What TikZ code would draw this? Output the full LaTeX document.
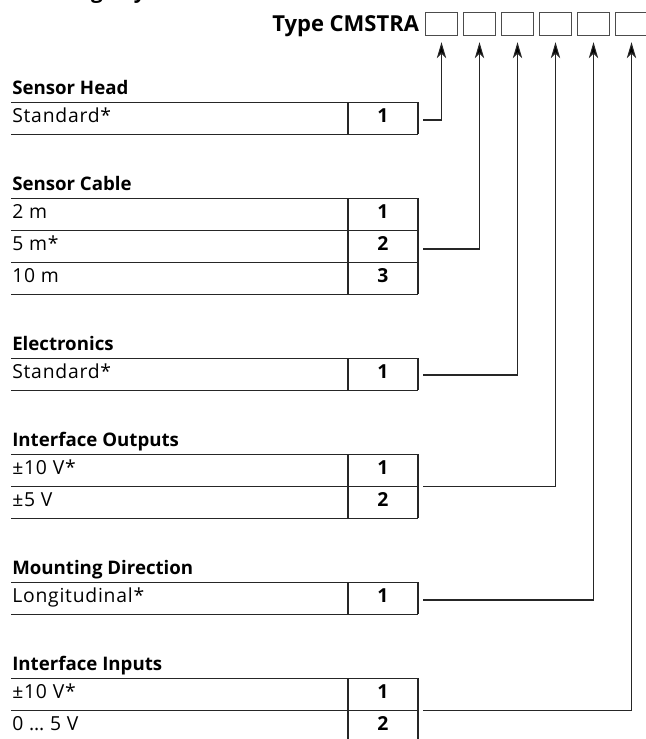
\documentclass[tikz,border=0pt]{standalone}
\usepackage{fontspec}
\setmainfont{Open Sans}
\newfontfamily\rowfont[LetterSpace=4.0]{Open Sans}
\usetikzlibrary{arrows.meta}
\newcommand\optrow[4]{%
  \draw[tline] (11,#1) -- (418,#1);
  \draw[tline] (11,#1+32) -- (418,#1+32);
  \draw[tline] (348,#1) -- (348,#1+32) (418,#1) -- (418,#1+32);
  \node[rowtxt] (#4l) at (12,#1+20.5) {#2};
  \node[num] (#4n) at (383,#1+20.5) {#3};
}
\begin{document}
\begin{tikzpicture}[x=0.75pt,y=-0.75pt,
  tline/.style={draw=black!85,line width=0.95pt},
  conn/.style={draw=black!85,line width=0.8pt},
  arr/.style={conn,-{Stealth[length=12pt,width=7pt,inset=3.5pt,fill=black]},shorten >=4.5pt},
  hd/.style={anchor=base west,inner sep=0pt,font=\fontsize{14}{16}\selectfont\bfseries},
  rowtxt/.style={anchor=base west,inner sep=0pt,font=\fontsize{14.5}{16}\rowfont},
  num/.style={anchor=base,inner sep=0pt,font=\fontsize{14.5}{16}\selectfont\bfseries},
  ttl/.style={anchor=base west,inner sep=0pt,font=\fontsize{16.5}{19}\selectfont\bfseries},
  codebox/.style={draw=black!70,line width=0.8pt,minimum width=24pt,minimum height=17.5pt,inner sep=0pt}
]
\useasboundingbox (0,0) rectangle (646,739);

% partially visible title (cut by the page edge, only descenders show)
\node[anchor=base west,inner sep=0pt,font=\fontsize{15.5}{18}\selectfont\bfseries] (top) at (11,-1.5) {Ordering Key};

% type code
\node[ttl] (type) at (272,31.5) {Type CMSTRA};
\foreach \k in {0,...,5} \node[codebox] (b\k) at ({441.5+38*\k},24) {};

% Sensor Head
\node[hd] (h0) at (12,94) {Sensor Head};
\optrow{102.3}{Standard*}{1}{a1}

% Sensor Cable
\node[hd] (h1) at (12,190.3) {Sensor Cable};
\optrow{198.3}{2 m}{1}{c1}
\optrow{230.3}{5 m*}{2}{c2}
\optrow{262.3}{10 m}{3}{c3}

% Electronics
\node[hd] (h2) at (12,350.3) {Electronics};
\optrow{358.3}{Standard*}{1}{e1}

% Interface Outputs
\node[hd] (h3) at (12,446.3) {Interface Outputs};
\optrow{454.3}{±10 V*}{1}{o1}
\optrow{486.3}{±5 V}{2}{o2}

% Mounting Direction
\node[hd] (h4) at (12,574.3) {Mounting Direction};
\optrow{582.3}{Longitudinal*}{1}{m1}

% Interface Inputs
\node[hd] (h5) at (12,670.3) {Interface Inputs};
\optrow{678.3}{±10 V*}{1}{i1}
\optrow{710.3}{0 … 5 V}{2}{i2}

% connectors
\coordinate (s0) at (423,120);
\coordinate (s1) at (423,249);
\coordinate (s2) at (423,375);
\coordinate (s3) at (423,486.3);
\coordinate (s4) at (423,600);
\coordinate (s5) at (423,710.3);
\foreach \k in {0,...,5} \draw[arr] (s\k) -| (b\k.south);
\end{tikzpicture}
\end{document}
